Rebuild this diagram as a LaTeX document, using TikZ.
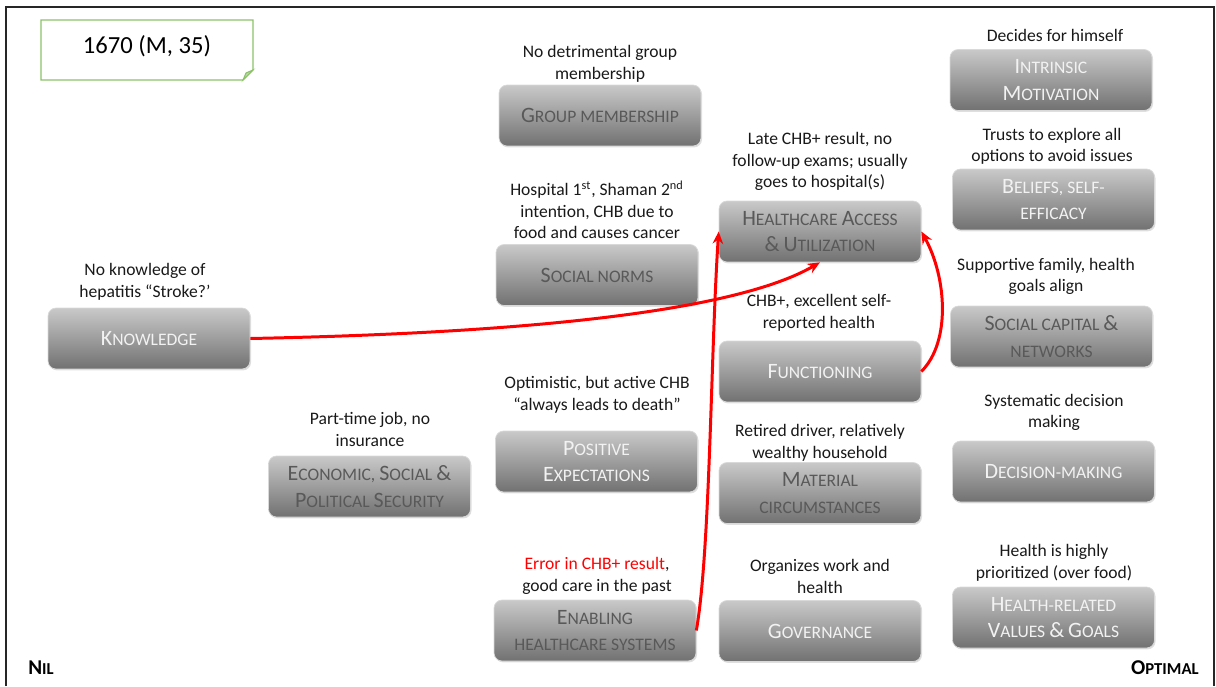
\documentclass[tikz,border=0pt]{standalone}
\usepackage{fontspec}
\setmainfont{Carlito}
\usetikzlibrary{arrows.meta,shadows}

\definecolor{boxtop}{HTML}{C9C9C9}
\definecolor{boxbot}{HTML}{717171}
\definecolor{capdark}{HTML}{595959}
\definecolor{caplight}{HTML}{F2F2F2}
\definecolor{notegreen}{HTML}{8CC168}
\definecolor{linkred}{HTML}{FF0000}

% full-size capital inside the small caps headings
\newcommand{\bc}[1]{{\fontsize{12.5}{15}\selectfont #1}}

\begin{document}
\begin{tikzpicture}[x=0.02cm, y=-0.02cm,
    factor/.style={rounded corners=0.16cm, top color=boxtop, bottom color=boxbot,
        draw=gray!30, line width=0.4pt, minimum width=4.04cm, minimum height=1.22cm,
        align=center, inner sep=2pt, font=\fontsize{10}{15.3}\selectfont,
        drop shadow={shadow xshift=0.6pt, shadow yshift=-0.8pt, opacity=0.25}},
    darkbox/.style={factor, text=capdark},
    lightbox/.style={factor, text=caplight},
    desc/.style={align=center, inner sep=0pt, yshift=-1.2pt, text=black!90, font=\fontsize{10}{12.2}\selectfont},
    link/.style={draw=linkred, line width=1.7pt, -{Stealth[length=7pt,width=6pt]}}]
    \useasboundingbox (0,0) rectangle (1216,686);

    % Frame
    \draw[line width=0.9pt, black!85] (6,686) -- (6,7) -- (1214,7) -- (1214,686);

    % Case note
    \draw[notegreen, line width=0.8pt] (41,20) -- (253,20) -- (253,70) -- (243,80) -- (41,80) -- cycle;
    \filldraw[draw=notegreen, fill=notegreen!60, line width=0.6pt] (243,80) -- (246,73) -- (253,70) -- cycle;
    \node[font=\fontsize{14}{16}\selectfont] (case) at (147,46) {1670 (M, 35)};

    % Left column
    \node[lightbox] (kn) at (149,338.5) {\bc{K}NOWLEDGE};
    \node[desc] (kntxt) at (145,279.5) {No knowledge of\\hepatitis “Stroke?’};
    \node[darkbox] (es) at (369.5,486.5) {\bc{E}CONOMIC, \bc{S}OCIAL \bc{\&}\\\bc{P}OLITICAL \bc{S}ECURITY};
    \node[desc] (estxt) at (370,427.5) {Part-time job, no\\insurance};

    % Second column
    \node[darkbox] (gm) at (600,115.5) {\bc{G}ROUP MEMBERSHIP};
    \node[desc] (gmtxt) at (600,61.5) {No detrimental group\\membership};
    \node[darkbox] (sn) at (597,275) {\bc{S}OCIAL NORMS};
    \node[desc] (sntxt) at (597,207.5) {Hospital 1\textsuperscript{st}, Shaman 2\textsuperscript{nd}\\intention, CHB due to\\food and causes cancer};
    \node[lightbox] (pe) at (596.5,461.5) {\bc{P}OSITIVE\\\bc{E}XPECTATIONS};
    \node[desc] (petxt) at (597,392.5) {Optimistic, but active CHB\\“always leads to death”};
    \node[darkbox] (en) at (595,630.5) {\bc{E}NABLING\\HEALTHCARE SYSTEMS};
    \node[desc] (entxt) at (597,574) {{\color{linkred}Error in CHB+ result},\\good care in the past};

    % Third column
    \node[darkbox] (hca) at (820,231.5) {\bc{H}EALTHCARE \bc{A}CCESS\\\bc{\&} \bc{U}TILIZATION};
    \node[desc] (hcatxt) at (820,159.5) {Late CHB+ result, no\\follow-up exams; usually\\goes to hospital(s)};
    \node[lightbox] (fn) at (820,371.5) {\bc{F}UNCTIONING};
    \node[desc] (fntxt) at (819,310.5) {CHB+, excellent self-\\reported health};
    \node[darkbox] (mc) at (820,493) {\bc{M}ATERIAL\\CIRCUMSTANCES};
    \node[desc] (mctxt) at (820,440.5) {Retired driver, relatively\\wealthy household};
    \node[lightbox] (gv) at (820,631) {\bc{G}OVERNANCE};
    \node[desc] (gvtxt) at (820,574.5) {Organizes work and\\health};

    % Right column
    \node[lightbox] (im) at (1051,80) {\bc{I}NTRINSIC\\\bc{M}OTIVATION};
    \node[desc] (imtxt) at (1055,33) {Decides for himself};
    \node[lightbox] (be) at (1053.5,199.5) {\bc{B}ELIEFS, SELF-\\EFFICACY};
    \node[desc] (betxt) at (1052,144) {Trusts to explore all\\options to avoid issues};
    \node[darkbox] (scn) at (1051.5,336.5) {\bc{S}OCIAL CAPITAL \bc{\&}\\NETWORKS};
    \node[desc] (scntxt) at (1046,274.5) {Supportive family, health\\goals align};
    \node[lightbox] (dm) at (1053.5,471.5) {\bc{D}ECISION-MAKING};
    \node[desc] (dmtxt) at (1054,410.5) {Systematic decision\\making};
    \node[lightbox] (hv) at (1053.5,617.5) {\bc{H}EALTH-RELATED\\\bc{V}ALUES \bc{\&} \bc{G}OALS};
    \node[desc] (hvtxt) at (1054,560.5) {Health is highly\\prioritized (over food)};

    % Scale ends
    \node[font=\bfseries\fontsize{9.5}{11}\selectfont, anchor=west, inner sep=0pt] (nil) at (28,668) {{\fontsize{12}{14}\selectfont N}IL};
    \node[font=\bfseries\fontsize{9.5}{11}\selectfont, anchor=east, inner sep=0pt] (optimal) at (1199,668) {{\fontsize{12}{14}\selectfont O}PTIMAL};

    % Links into healthcare access
    \draw[link] (kn.east) .. controls +(200,-4) and +(-100,58) .. (hca.south);
    \draw[link] (en.east) .. controls +(14,-80) and +(-8,120) .. (hca.west);
    \draw[link] (fn.east) .. controls +(30,-30) and +(25,45) .. (hca.east);
\end{tikzpicture}
\end{document}
